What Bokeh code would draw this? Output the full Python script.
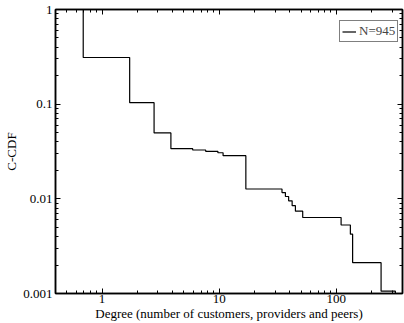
from bokeh.plotting import figure
from bokeh.models import (LogAxis, FixedTicker, Legend, LegendItem, Range1d,
                          CustomJSTickFormatter)
from bokeh.embed import file_html
from bokeh.resources import INLINE

# ---- data ----
N = 945
degree = [0.69, 1.72, 2.78, 3.87, 5.94, 7.67, 9.75, 10.8, 16.9, 34.4,
          36.8, 39.2, 42.0, 44.8, 51.7, 110.0, 132.0, 138.0, 241.5, 320.0]
count_above = [294, 98, 47, 32, 31, 30, 29, 27, 12, 11,
               10, 9, 8, 7, 6, 5, 4, 2, 1, 0]
x_major = [1, 10, 100]
y_major = [0.001, 0.01, 0.1, 1]

ccdf = [max(c / N, 1e-5) for c in count_above]

# step path (value holds until the next degree)
xs = [degree[0]]
ys = [1.0]
for i in range(len(degree)):
    xs.append(degree[i]); ys.append(ccdf[i])
    if i + 1 < len(degree):
        xs.append(degree[i + 1]); ys.append(ccdf[i])

FONT = "Liberation Serif"

p = figure(width=404, height=323, x_axis_type="log", y_axis_type="log",
           x_range=Range1d(0.4, 368), y_range=Range1d(0.001, 1),
           output_backend="svg", toolbar_location=None,
           min_border_left=55, min_border_top=9, min_border_right=2,
           min_border_bottom=30)
p.xgrid.visible = False
p.ygrid.visible = False
p.outline_line_color = "black"
p.outline_line_width = 1.5
p.background_fill_color = "white"
p.border_fill_color = "white"

r = p.line(xs, ys, line_color="black", line_width=1.2)

def minor_of(majors_lo, majors_hi):
    out = []
    for k in range(majors_lo, majors_hi + 1):
        for m in range(2, 10):
            out.append(m * 10.0 ** k)
    return out

x_minor = minor_of(-1, 2)
y_minor = minor_of(-3, -1)

fmt = CustomJSTickFormatter(code="return String(tick);")
blank = CustomJSTickFormatter(code="return '';")

def style(ax):
    ax.axis_line_color = "black"
    ax.axis_line_width = 1.5
    ax.major_tick_in = 5
    ax.major_tick_out = 0
    ax.minor_tick_in = 3
    ax.minor_tick_out = 0
    ax.major_tick_line_color = "black"
    ax.minor_tick_line_color = "black"
    ax.major_label_text_font = FONT
    ax.major_label_text_font_size = "13px"
    ax.major_label_text_color = "black"
    ax.axis_label_text_font = FONT
    ax.axis_label_text_font_size = "13px"
    ax.axis_label_text_font_style = "normal"
    ax.axis_label_text_color = "black"

xa = p.xaxis[0]
xa.ticker = FixedTicker(ticks=x_major, minor_ticks=x_minor)
xa.formatter = fmt
xa.axis_label = "Degree (number of customers, providers and peers)"
style(xa)
xa.major_label_standoff = 1
xa.axis_label_standoff = 0

ya = p.yaxis[0]
ya.ticker = FixedTicker(ticks=y_major, minor_ticks=y_minor)
ya.formatter = fmt
ya.axis_label = "C-CDF"
style(ya)
ya.major_label_standoff = 3
ya.axis_label_standoff = 1

top = LogAxis(ticker=FixedTicker(ticks=x_major, minor_ticks=x_minor), formatter=blank)
style(top)
top.major_label_standoff = 0
p.add_layout(top, "above")

right = LogAxis(ticker=FixedTicker(ticks=y_major, minor_ticks=y_minor), formatter=blank)
style(right)
right.major_label_standoff = 0
p.add_layout(right, "right")

legend = Legend(items=[LegendItem(label="N=" + str(N), renderers=[r])],
                location=(284, 251))
legend.border_line_color = "black"
legend.border_line_width = 1
legend.background_fill_color = "white"
legend.background_fill_alpha = 1
legend.padding = 2
legend.spacing = 0
legend.margin = 0
legend.glyph_width = 14
legend.glyph_height = 11
legend.label_height = 11
legend.label_standoff = 3
legend.label_text_font = FONT
legend.label_text_font_size = "13px"
legend.label_text_baseline = "middle"
p.add_layout(legend)

open("out.html", "w").write(file_html(p, INLINE))
